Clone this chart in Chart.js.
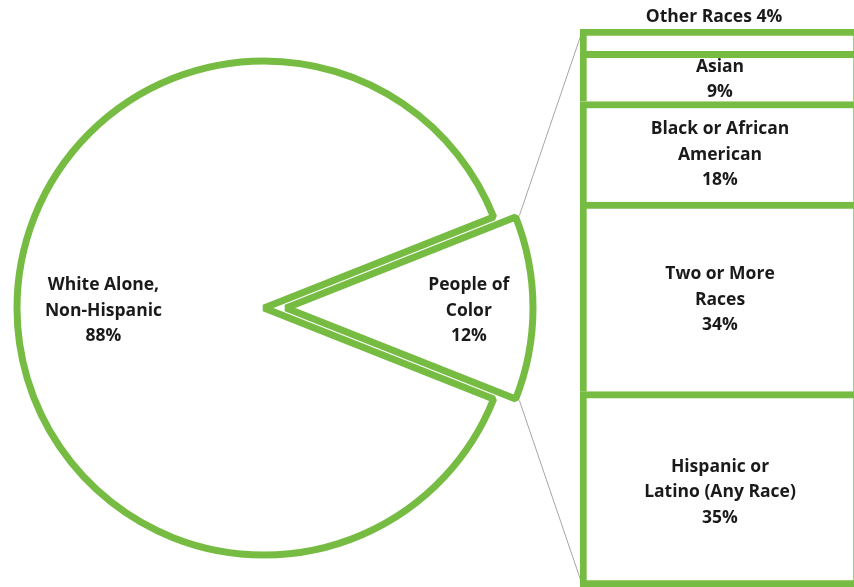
<!DOCTYPE html>
<html>
<head>
<meta charset="utf-8">
<script src="https://cdn.jsdelivr.net/npm/chart.js@4.4.1/dist/chart.umd.min.js"></script>
<style>
  html, body { margin: 0; padding: 0; overflow: hidden; background: #fff; width: 854px; height: 587px; }
  canvas { position: absolute; top: 0; }
  #pieWhite { left: 0; }
  #pieColor { left: 22px; }
  #barSplit { left: 580px; }
</style>
</head>
<body>
<canvas id="pieWhite" width="600" height="587"></canvas>
<canvas id="pieColor" width="600" height="587"></canvas>
<canvas id="barSplit" width="280" height="587"></canvas>
<script>
// pie: whole population
const pieLabels = [['White Alone,', 'Non-Hispanic'], ['People of', 'Color']];
const pieValues = [88, 12];

// bar: breakdown of people of color (bottom to top)
const barLabels = [['Hispanic or', 'Latino (Any Race)'], ['Two or More', 'Races'], ['Black or African', 'American'], ['Asian'], ['Other Races']];
const barValues = [35, 34, 18, 9, 4];

const green = 'rgb(118, 188, 67)';
const grey = '#a6a6a6';
const textColor = '#1a1a1a';
const labelFont = 'bold 17.5px "Open Sans"';
const lineHeight = 25.5;
const stroke = 7;

Chart.defaults.animation = false;
Chart.defaults.events = [];
Chart.defaults.plugins.legend.display = false;
Chart.defaults.plugins.tooltip.enabled = false;

function drawLines(ctx, lines, x, cy) {
    lines.forEach((t, k) => {
        ctx.fillText(t, x, cy + 3 + (k - (lines.length - 1) / 2) * lineHeight);
    });
}

// labels inside the bar segments, small one goes above the bar
const barLabelPlugin = {
    id: 'barLabels',
    afterDatasetsDraw(chart) {
        const ctx = chart.ctx;
        ctx.save();
        ctx.font = labelFont;
        ctx.fillStyle = textColor;
        ctx.textAlign = 'center';
        ctx.textBaseline = 'middle';
        chart.data.datasets.forEach((ds, i) => {
            const el = chart.getDatasetMeta(i).data[0];
            const val = barValues[i] + '%';
            if (barValues[i] < 5) {
                ctx.fillText(barLabels[i].join(' ') + ' ' + val, el.x - 6, el.y - 12);
            } else {
                drawLines(ctx, barLabels[i].concat([val]), el.x, (el.y + el.base) / 2);
            }
        });
        ctx.restore();
    }
};

const barChart = new Chart(document.getElementById('barSplit'), {
    type: 'bar',
    data: {
        labels: ['People of Color'],
        datasets: barValues.map((v, i) => ({
            label: barLabels[i].join(' '),
            data: [v],
            backgroundColor: '#fff',
            borderColor: green,
            borderWidth: stroke,
            borderSkipped: i === 0 ? false : 'start',
            barPercentage: 1,
            categoryPercentage: 1
        }))
    },
    options: {
        responsive: false,
        layout: { padding: { top: 29, bottom: 0, left: 0, right: 0 } },
        scales: {
            x: { stacked: true, display: false },
            y: { stacked: true, display: false, min: 0, max: 100 }
        }
    },
    plugins: [barLabelPlugin]
});

// one pie per canvas so the people of color slice can be pulled out
function pieLabelPlugin(idx, dist) {
    return {
        id: 'pieLabel' + idx,
        afterDatasetsDraw(chart) {
            const arc = chart.getDatasetMeta(0).data[idx];
            const mid = (arc.startAngle + arc.endAngle) / 2;
            const x = arc.x + Math.cos(mid) * arc.outerRadius * dist;
            const y = arc.y + Math.sin(mid) * arc.outerRadius * dist;
            const ctx = chart.ctx;
            ctx.save();
            ctx.font = labelFont;
            ctx.fillStyle = textColor;
            ctx.textAlign = 'center';
            ctx.textBaseline = 'middle';
            drawLines(ctx, pieLabels[idx].concat([pieValues[idx] + '%']), x, y);
            ctx.restore();
        }
    };
}

// grey lines from the pulled-out slice to the bar corners
const connectorPlugin = {
    id: 'connectors',
    afterDraw(chart) {
        const arc = chart.getDatasetMeta(0).data[1];
        const r = arc.outerRadius + 4;
        const shift = barChart.canvas.offsetLeft - chart.canvas.offsetLeft;
        const top = barChart.getDatasetMeta(barValues.length - 1).data[0];
        const bottom = barChart.getDatasetMeta(0).data[0];
        const bx = top.x - top.width / 2 + shift + 3;
        const ctx = chart.ctx;
        ctx.save();
        ctx.strokeStyle = grey;
        ctx.lineWidth = 1;
        ctx.beginPath();
        ctx.moveTo(arc.x + Math.cos(arc.startAngle) * r, arc.y + Math.sin(arc.startAngle) * r);
        ctx.lineTo(bx, top.y);
        ctx.moveTo(arc.x + Math.cos(arc.endAngle) * r, arc.y + Math.sin(arc.endAngle) * r);
        ctx.lineTo(bx, bottom.base);
        ctx.stroke();
        ctx.restore();
    }
};

function makePie(id, idx, dist, extra) {
    return new Chart(document.getElementById(id), {
        type: 'pie',
        data: {
            labels: pieLabels.map(l => l.join(' ')),
            datasets: [{
                data: pieValues,
                backgroundColor: pieValues.map((v, i) => i === idx ? '#fff' : 'rgba(0,0,0,0)'),
                borderColor: pieValues.map((v, i) => i === idx ? green : 'rgba(0,0,0,0)'),
                borderWidth: pieValues.map((v, i) => i === idx ? stroke : 0)
            }]
        },
        options: {
            responsive: false,
            rotation: 111.6,
            radius: 247,
            layout: { padding: { top: 29, bottom: 0, left: 0, right: 72 } }
        },
        plugins: [pieLabelPlugin(idx, dist)].concat(extra)
    });
}

makePie('pieWhite', 0, 0.65, []);
makePie('pieColor', 1, 0.74, [connectorPlugin]);
</script>
</body>
</html>
